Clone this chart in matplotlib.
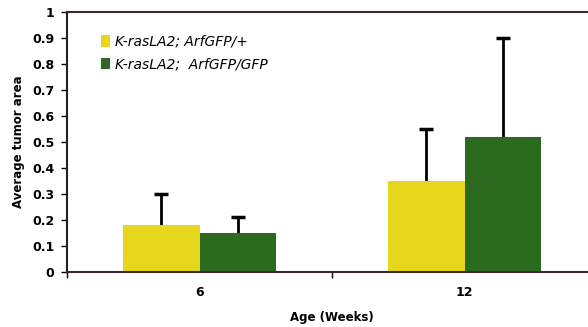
import numpy as np
import matplotlib
matplotlib.use("Agg")
import matplotlib.pyplot as plt

ages = ["6", "12"]
het_mean = [0.18, 0.35]
het_err = [0.12, 0.20]
hom_mean = [0.15, 0.52]
hom_err = [0.06, 0.38]
labels = ["K-rasLA2; ArfGFP/+", "K-rasLA2;  ArfGFP/GFP"]

fig = plt.figure(figsize=(5.88, 3.27), dpi=100)
ax = fig.add_axes([67 / 588, 55 / 327, 530 / 588, 260 / 327])

x = np.arange(len(ages))
w = 0.29
ax.bar(x - w / 2, het_mean, w, color="#e6d61c", label=labels[0], zorder=2)
ax.bar(x + w / 2, hom_mean, w, color="#2b6a1f", label=labels[1], zorder=2)

# upper error bars only
for xs, m, e in [(x - w / 2, het_mean, het_err), (x + w / 2, hom_mean, hom_err)]:
    top = np.array(m) + np.array(e)
    ax.vlines(xs, m, top, color="black", lw=2, zorder=1)
    ax.plot(xs, top, ls="none", marker="_", ms=10, mew=2.5, color="black", zorder=1)

ax.set_xlim(-0.5, 1.5)
ax.set_ylim(0, 1)
ax.set_yticks(np.arange(0, 1.01, 0.1))
ax.set_yticklabels(["0"] + [f"{v:.1f}" for v in np.arange(0.1, 0.95, 0.1)] + ["1"])
ax.set_xticks(x)
ax.set_xticklabels(ages)
ax.set_xticks([-0.5, 0.5, 1.5], minor=True)
ax.tick_params(axis="x", which="major", length=0, pad=10)
ax.tick_params(axis="x", which="minor", length=4, width=1)
ax.tick_params(axis="y", length=4, width=1, direction="out", pad=5)
for t in ax.get_xticklabels() + ax.get_yticklabels():
    t.set_fontweight("bold")
    t.set_fontsize(9)

for s in ["left", "bottom", "top"]:
    ax.spines[s].set_linewidth(1.5)
ax.spines["left"].set_color("#222222")
ax.spines["bottom"].set_color("#3a2a2e")
ax.spines["top"].set_color("#3a2a2e")
ax.spines["right"].set_visible(False)

ax.set_ylabel("Average tumor area", fontsize=8.5, fontweight="bold", labelpad=5)
ax.set_xlabel("Age (Weeks)", fontsize=8.5, fontweight="bold", labelpad=9)

leg = ax.legend(loc="upper left", bbox_to_anchor=(0.04, 0.96), frameon=False,
                fontsize=10, handlelength=0.7, handleheight=0.9, handletextpad=0.3,
                labelspacing=0.6)
for t in leg.get_texts():
    t.set_fontstyle("italic")

fig.savefig("out.png", dpi=100, facecolor="white")
